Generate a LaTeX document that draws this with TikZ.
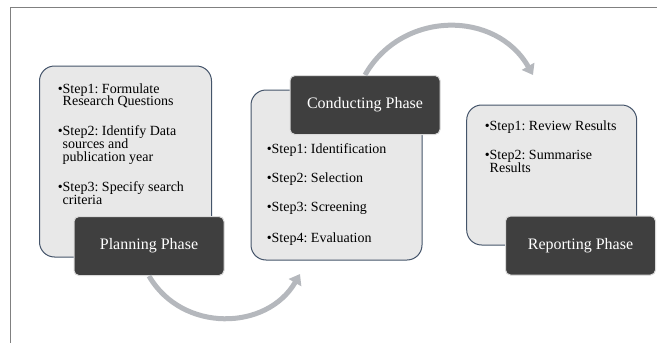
\documentclass[tikz,border=0pt]{standalone}
\usepackage{fontspec}
\setmainfont{Liberation Serif}
\usetikzlibrary{arrows.meta}
\frenchspacing

\definecolor{boxgray}{HTML}{E8E8E8}
\definecolor{boxline}{HTML}{44546A}
\definecolor{phasedark}{HTML}{3F3F3F}
\definecolor{phaseline}{HTML}{DADADA}
\definecolor{arrowgray}{HTML}{B5B8BD}
\definecolor{framegray}{HTML}{808080}

\newcommand{\stepbullet}{\llap{\textbullet}}

\tikzset{
  stepbox/.style={draw=boxline, line width=1pt, fill=boxgray, rounded corners=15pt, inner sep=0pt},
  phasebox/.style={draw=phaseline, line width=1pt, fill=phasedark, rounded corners=5pt, text=white,
    font=\fontsize{16}{19}\selectfont, minimum width=150pt, minimum height=59pt, inner sep=0pt},
  steptext/.style={align=left, anchor=north west, inner sep=0pt, font=\fontsize{14}{12.7}\selectfont},
  cyclearrow/.style={draw=arrowgray, line width=5pt, -{Triangle[width=14pt,length=10pt]}}
}

\begin{document}
\begin{tikzpicture}[x=1pt, y=-1pt]
        \useasboundingbox (0,0) rectangle (657,343);
        \draw[framegray, line width=1pt] (657,7.3) -| (10.8,343);

        % light boxes with the steps
        \node[stepbox, minimum width=172pt, minimum height=191pt] (planbox) at (125.5, 161.5) {};
        \node[stepbox, minimum width=171pt, minimum height=170pt] (conductbox) at (336.5, 175) {};
        \node[stepbox, minimum width=170pt, minimum height=140pt] (reportbox) at (551.7, 175) {};

        \node[steptext] (plansteps) at (62.5, 83.1)
            {\stepbullet Step1: Formulate\\Research Questions\\[16.6pt]
             \stepbullet Step2: Identify Data\\sources and\\publication year\\[16.6pt]
             \stepbullet Step3: Specify search\\criteria};
        \node[steptext] (conductsteps) at (271.5, 143.1)
            {\stepbullet Step1: Identification\\[16.6pt]
             \stepbullet Step2: Selection\\[16.6pt]
             \stepbullet Step3: Screening\\[16.6pt]
             \stepbullet Step4: Evaluation};
        \node[steptext] (reportsteps) at (489.5, 120.4)
            {\stepbullet Step1: Review Results\\[16.6pt]
             \stepbullet Step2: Summarise\\Results};

        % dark phase labels
        \node[phasebox] (planlabel) at (149, 246) {Planning Phase};
        \node[phasebox] (conductlabel) at (365, 105) {Conducting Phase};
        \node[phasebox] (reportlabel) at (580.5, 245.5) {Reporting Phase};

        % curved arrows between phases
        \coordinate (bottomtip) at (300, 274);
        \coordinate (toptip) at (533, 75);
        \draw[cyclearrow] (planlabel.south) .. controls +(33,57) and +(-33,57) .. (bottomtip);
        \draw[cyclearrow] (conductlabel.north) .. controls +(37,-65) and +(-37,-65) .. (toptip);
    \end{tikzpicture}
\end{document}
